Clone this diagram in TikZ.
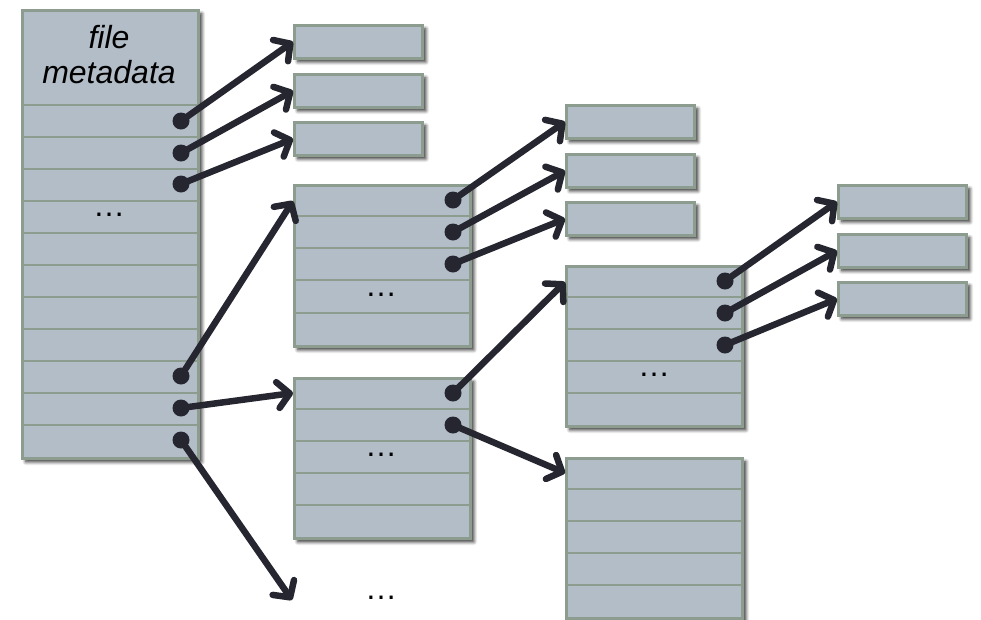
\documentclass[tikz,border=0pt]{standalone}
\usepackage{fontspec}
\setmainfont{Liberation Sans}
\usetikzlibrary{arrows.meta,shadows.blur,calc}
\definecolor{boxfill}{HTML}{B3BDC7}
\definecolor{boxline}{HTML}{8C9C8E}
\definecolor{arrcol}{HTML}{262631}
\begin{document}
\begin{tikzpicture}[x=1pt,y=-1pt,
  blk/.style={draw=boxline, fill=boxfill, line width=2.6pt, inner sep=0pt, anchor=north west,
    blur shadow={shadow xshift=3.5pt,shadow yshift=-3.5pt,shadow blur radius=3.5pt,shadow blur steps=6,shadow opacity=85}},
  small/.style={blk, minimum width=128pt, minimum height=33pt},
  sep/.style={draw=boxline,line width=2.4pt},
  dotn/.style={circle,fill=arrcol,minimum size=17pt,inner sep=0pt},
  ptr/.style={draw=arrcol,line width=6.5pt,line cap=round,-{Straight Barb[length=12pt,width=26pt,round]}},
  ell/.style={font=\fontsize{32}{35}\selectfont, inner sep=0pt}]
\useasboundingbox (0,0) rectangle (981,619);

% inode
\node[blk, minimum width=176pt, minimum height=448pt] (ino) at (21,9) {};
\foreach \y in {105,137,...,425} \draw[sep] (21,\y) -- (197,\y);
\node[font=\itshape\fontsize{32}{35}\selectfont, align=center] (meta) at (109,55) {file\\metadata};
\node[ell] (e0) at (109,215) {…};

% column 1 small blocks
\node[small] (c1a) at (293,24) {};
\node[small] (c1b) at (293,73) {};
\node[small] (c1c) at (293,121) {};

% indirect block 1
\node[blk, minimum width=176pt, minimum height=161pt] (b1) at (293,184) {};
\foreach \y in {216,248,280,313} \draw[sep] (293,\y) -- (469,\y);
\node[ell] (e1) at (381,295) {…};

% indirect block 2
\node[blk, minimum width=176pt, minimum height=160pt] (b2) at (293,377) {};
\foreach \y in {409,441,473,505} \draw[sep] (293,\y) -- (469,\y);
\node[ell] (e2) at (381,455) {…};

% bottom ellipsis
\node[ell] (e4) at (381,598) {…};
\coordinate (bend) at (292,600);

% column 2 small blocks
\node[small] (c2a) at (565,104) {};
\node[small] (c2b) at (565,153) {};
\node[small] (c2c) at (565,201) {};

% block 3
\node[blk, minimum width=176pt, minimum height=160pt] (b3) at (565,265) {};
\foreach \y in {297,329,361,393} \draw[sep] (565,\y) -- (741,\y);
\node[ell] (e3) at (654,375) {…};

% block 4
\node[blk, minimum width=176pt, minimum height=160pt] (b4) at (565,457) {};
\foreach \y in {489,521,553,585} \draw[sep] (565,\y) -- (741,\y);

% column 3 small blocks
\node[small] (c3a) at (837,184) {};
\node[small] (c3b) at (837,233) {};
\node[small] (c3c) at (837,281) {};

% targets on blocks
\coordinate (t1) at ($(b1.north west)+(0,17)$);
\coordinate (t2) at ($(b2.north west)+(0,16)$);
\coordinate (t3) at ($(b3.north west)+(0,17)$);
\coordinate (t4) at ($(b4.north west)+(0,16)$);

% dots
\node[dotn] (d1) at (181,121) {};
\node[dotn] (d2) at (181,153) {};
\node[dotn] (d3) at (181,184) {};
\node[dotn] (d4) at (181,376) {};
\node[dotn] (d5) at (181,408) {};
\node[dotn] (d6) at (181,440) {};
\node[dotn] (p1) at (453,200) {};
\node[dotn] (p2) at (453,232) {};
\node[dotn] (p3) at (453,264) {};
\node[dotn] (q1) at (453,393) {};
\node[dotn] (q2) at (453,425) {};
\node[dotn] (r1) at (725,281) {};
\node[dotn] (r2) at (725,313) {};
\node[dotn] (r3) at (725,345) {};

% pointers
\draw[ptr] (d1.center) -- (c1a.west);
\draw[ptr] (d2.center) -- (c1b.west);
\draw[ptr] (d3.center) -- (c1c.west);
\draw[ptr] (d4.center) -- (t1);
\draw[ptr] (d5.center) -- (t2);
\draw[ptr] (d6.center) -- (bend);
\draw[ptr] (p1.center) -- (c2a.west);
\draw[ptr] (p2.center) -- (c2b.west);
\draw[ptr] (p3.center) -- (c2c.west);
\draw[ptr] (q1.center) -- (t3);
\draw[ptr] (q2.center) -- (t4);
\draw[ptr] (r1.center) -- (c3a.west);
\draw[ptr] (r2.center) -- (c3b.west);
\draw[ptr] (r3.center) -- (c3c.west);
\end{tikzpicture}
\end{document}
